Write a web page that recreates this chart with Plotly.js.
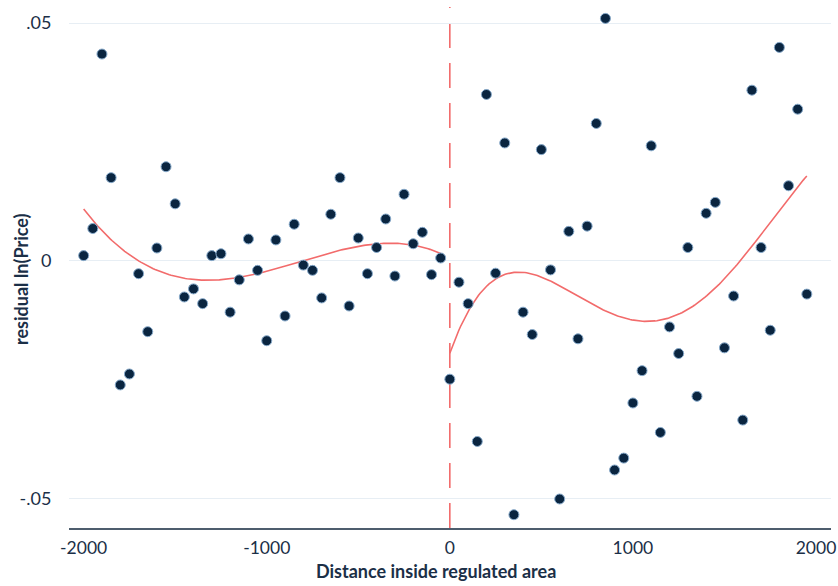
<!DOCTYPE html>
<html>
<head>
<meta charset="utf-8">
<script src="https://cdn.plot.ly/plotly-3.0.1.min.js"></script>
<style>html,body{margin:0;padding:0;background:#fff;}#chart{width:838px;height:586px;}</style>
</head>
<body>
<div id="chart"></div>
<script>
// Bin centres (distance inside regulated area) and binned residuals
const leftX = [-2000,-1950,-1900,-1850,-1800,-1750,-1700,-1650,-1600,-1550,-1500,-1450,-1400,-1350,-1300,-1250,-1200,-1150,-1100,-1050,-1000,-950,-900,-850,-800,-750,-700,-650,-600,-550,-500,-450,-400,-350,-300,-250,-200,-150,-100,-50];
const leftY = [0.0011,0.0068,0.0435,0.0175,-0.0261,-0.0238,-0.0027,-0.0149,0.0027,0.0198,0.0120,-0.0076,-0.0059,-0.0090,0.0011,0.0015,-0.0108,-0.0040,0.0046,-0.0020,-0.0168,0.0044,-0.0116,0.0077,-0.0009,-0.0020,-0.0078,0.0098,0.0175,-0.0095,0.0048,-0.0027,0.0028,0.0088,-0.0032,0.0140,0.0036,0.0060,-0.0029,0.0006];
const rightX = [0,50,100,150,200,250,300,350,400,450,500,550,600,650,700,750,800,850,900,950,1000,1050,1100,1150,1200,1250,1300,1350,1400,1450,1500,1550,1600,1650,1700,1750,1800,1850,1900,1950];
const rightY = [-0.0249,-0.0045,-0.0090,-0.0380,0.0350,-0.0026,0.0248,-0.0534,-0.0108,-0.0155,0.0234,-0.0019,-0.0501,0.0062,-0.0164,0.0073,0.0289,0.0510,-0.0440,-0.0415,-0.0299,-0.0231,0.0242,-0.0361,-0.0139,-0.0195,0.0028,-0.0285,0.0100,0.0123,-0.0183,-0.0074,-0.0335,0.0359,0.0028,-0.0146,0.0449,0.0158,0.0319,-0.0070];
const yTickVals = [-0.05, 0, 0.05];
const yTickText = ["-.05", "0", ".05"];
const xTickVals = [-2000, -1000, 0, 1000, 2000];
const xTickText = ["-2000", "-1000", "0", "1000", "2000"];
const polyOrder = 4;

// least-squares polynomial fit on each side of the cutoff
function polyfit(xs, ys, deg) {
  const n = deg + 1;
  const A = Array.from({length: n}, () => new Array(n + 1).fill(0));
  xs.forEach((x0, i) => {
    const x = x0 / 1000;
    const p = [];
    for (let k = 0; k < n; k++) p.push(Math.pow(x, k));
    for (let r = 0; r < n; r++) {
      for (let c = 0; c < n; c++) A[r][c] += p[r] * p[c];
      A[r][n] += p[r] * ys[i];
    }
  });
  for (let c = 0; c < n; c++) {
    let piv = c;
    for (let r = c + 1; r < n; r++) if (Math.abs(A[r][c]) > Math.abs(A[piv][c])) piv = r;
    [A[c], A[piv]] = [A[piv], A[c]];
    for (let r = 0; r < n; r++) {
      if (r === c) continue;
      const f = A[r][c] / A[c][c];
      for (let k = c; k <= n; k++) A[r][k] -= f * A[c][k];
    }
  }
  return A.map((row, i) => row[n] / row[i]);
}
function fitCurve(xs, ys) {
  const co = polyfit(xs, ys, polyOrder);
  const lo = Math.min(...xs), hi = Math.max(...xs);
  const fx = [], fy = [];
  for (let i = 0; i <= 200; i++) {
    const x = lo + (hi - lo) * i / 200;
    let y = 0;
    co.forEach((c, k) => { y += c * Math.pow(x / 1000, k); });
    fx.push(x); fy.push(y);
  }
  return {fx, fy};
}
const lf = fitCurve(leftX, leftY);
const rf = fitCurve(rightX, rightY);

const lineColor = "#f26b6b";
const marker = {size: 10, color: "#0a2540", line: {color: "#87aacb", width: 1}};
const traces = [
  {x: lf.fx, y: lf.fy, type: "scatter", mode: "lines", line: {color: lineColor, width: 1.6}, hoverinfo: "skip"},
  {x: rf.fx, y: rf.fy, type: "scatter", mode: "lines", line: {color: lineColor, width: 1.6}, hoverinfo: "skip"},
  {x: leftX, y: leftY, type: "scatter", mode: "markers", marker: marker, hoverinfo: "x+y"},
  {x: rightX, y: rightY, type: "scatter", mode: "markers", marker: marker, hoverinfo: "x+y"}
];
const textColor = "#1b2f47";
const layout = {
  width: 838, height: 586,
  margin: {l: 69, r: 7, t: 7, b: 58},
  paper_bgcolor: "#ffffff", plot_bgcolor: "#ffffff",
  showlegend: false,
  font: {family: "Lato, 'Open Sans', sans-serif", color: textColor, size: 17},
  xaxis: {
    range: [-2080, 2082],
    tickvals: xTickVals, ticktext: xTickText,
    showgrid: false, zeroline: false,
    showline: true, linecolor: "#4d5d6d", linewidth: 2,
    ticks: "outside", ticklen: 3, tickcolor: "rgba(0,0,0,0)",
    tickfont: {size: 17.5, color: textColor}
  },
  yaxis: {
    range: [-0.0562, 0.0534],
    tickvals: yTickVals, ticktext: yTickText,
    showgrid: true, gridcolor: "#e7eef4", gridwidth: 1,
    zeroline: false, showline: false,
    ticks: "outside", ticklen: 13, tickcolor: "rgba(0,0,0,0)",
    tickfont: {size: 18, color: textColor}
  },
  shapes: [{
    type: "line", xref: "x", yref: "paper", x0: 0, x1: 0, y0: 0, y1: 1,
    line: {color: lineColor, width: 1.6, dash: "25px,15px"}, layer: "below"
  }],
  annotations: [
    {text: "<b>Distance inside regulated area</b>", xref: "paper", yref: "paper",
     x: (436 - 69) / 762, y: 0, yshift: -43, xanchor: "center", yanchor: "middle",
     showarrow: false, font: {size: 18, color: textColor}},
    {text: "<b>residual ln(Price)</b>", xref: "paper", yref: "paper",
     x: 0, xshift: -48, y: (528 - 280) / 521, xanchor: "center", yanchor: "middle",
     textangle: -90, showarrow: false, font: {size: 18, color: textColor}}
  ]
};
Plotly.newPlot("chart", traces, layout, {displayModeBar: false, staticPlot: true});
</script>
</body>
</html>
